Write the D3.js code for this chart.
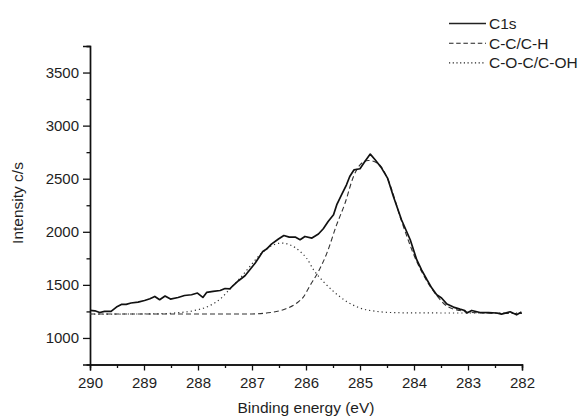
<!DOCTYPE html>
<html><head><meta charset="utf-8">
<script src="https://cdn.jsdelivr.net/npm/d3@7"></script>
<style>
html,body{margin:0;padding:0;background:#fff;}
svg text{font-family:"Liberation Sans",Arial,sans-serif;fill:#1e1e1e;}
</style></head>
<body><svg id="chart" width="582" height="416"></svg>
<script>
// Binding energy (eV) and intensity (c/s)
const c1sEnergy = [290.00,289.91,289.82,289.73,289.61,289.51,289.42,289.33,289.24,289.11,288.99,288.89,288.80,288.71,288.61,288.51,288.37,288.25,288.12,288.01,287.91,287.84,287.72,287.59,287.50,287.41,287.35,287.25,287.13,287.04,286.94,286.86,286.80,286.73,286.64,286.51,286.41,286.31,286.20,286.11,286.02,285.89,285.77,285.68,285.59,285.49,285.43,285.34,285.25,285.19,285.11,285.00,284.91,284.81,284.72,284.60,284.49,284.38,284.23,284.07,283.95,283.86,283.76,283.67,283.58,283.49,283.39,283.27,283.15,283.06,283.02,282.93,282.78,282.62,282.47,282.38,282.22,282.10,282.01];
const c1sIntensity = [1259,1256,1240,1250,1250,1291,1316,1316,1329,1338,1353,1369,1391,1360,1395,1366,1381,1400,1407,1423,1382,1429,1438,1447,1466,1463,1494,1539,1586,1642,1706,1768,1815,1837,1884,1932,1965,1950,1950,1925,1956,1941,1979,2029,2097,2160,2255,2349,2443,2521,2584,2594,2662,2732,2678,2600,2506,2330,2111,1925,1737,1642,1548,1470,1407,1376,1319,1291,1272,1259,1235,1259,1240,1238,1235,1225,1247,1218,1244];

const ccEnergy = [290.0,288.0,287.0,286.73,286.42,286.17,286.05,285.93,285.77,285.62,285.43,285.28,285.12,285.00,284.85,284.66,284.48,284.23,283.95,283.76,283.58,283.39,283.15,283.0,282.5,282.0];
const ccIntensity = [1225,1225,1226,1235,1266,1329,1385,1490,1626,1790,2070,2265,2521,2630,2672,2640,2490,2100,1720,1535,1400,1300,1258,1242,1233,1230];

const cocEnergy = [290.0,289.0,288.6,288.39,288.09,287.78,287.59,287.41,287.22,287.04,286.82,286.64,286.45,286.30,286.11,285.99,285.86,285.68,285.49,285.25,285.00,284.69,284.44,284.0,283.0,282.0];
const cocIntensity = [1225,1226,1230,1237,1256,1305,1366,1461,1564,1673,1800,1868,1894,1878,1815,1753,1642,1532,1438,1344,1282,1250,1240,1236,1235,1235];

const xTicks = [290,289,288,287,286,285,284,283,282];
const yTicks = [1000,1500,2000,2500,3000,3500];
const seriesNames = ["C1s","C-C/C-H","C-O-C/C-OH"];

const svg = d3.select("#chart");
const x = d3.scaleLinear().domain([290,282]).range([90,522]);
const y = d3.scaleLinear().domain([750,3750]).range([364.5,46]);

// axes
const xAxis = d3.axisBottom(x).tickValues(xTicks).tickFormat(d3.format("d")).tickSize(6).tickPadding(6.5);
const xMinor = d3.axisBottom(x).tickValues(d3.range(289.5,282,-1)).tickFormat("").tickSize(3.5);
const yAxis = d3.axisLeft(y).tickValues(yTicks).tickFormat(d3.format("d")).tickSize(7).tickPadding(4);
const yMinor = d3.axisLeft(y).tickValues([1250,1750,2250,2750,3250,3750]).tickFormat("").tickSize(3.5);

function styleAxis(g){
  g.select(".domain").attr("stroke","#111").attr("stroke-width",1.4);
  g.selectAll(".tick line").attr("stroke","#111").attr("stroke-width",1.3);
  g.selectAll(".tick text").attr("font-size",15).attr("fill","#1e1e1e").attr("font-family","Liberation Sans, Arial, sans-serif");
}
svg.append("g").attr("transform","translate(0,364.5)").call(xMinor).call(styleAxis);
svg.append("g").attr("transform","translate(0,364.5)").call(xAxis).call(styleAxis);
svg.append("g").attr("transform","translate(90,0)").call(yMinor).call(styleAxis);
svg.append("g").attr("transform","translate(90,0)").call(yAxis).call(styleAxis);

// axis titles
svg.append("text").attr("x",306).attr("y",413).attr("text-anchor","middle").attr("font-size",15.5).text("Binding energy (eV)");
svg.append("text").attr("transform","translate(23,203) rotate(-90)").attr("text-anchor","middle").attr("font-size",15.5).text("Intensity c/s");

// lines
const smooth = d3.line().x(d=>x(d[0])).y(d=>y(d[1])).curve(d3.curveMonotoneX);
const raw = d3.line().x(d=>x(d[0])).y(d=>y(d[1]));

svg.append("path").datum(d3.zip(ccEnergy,ccIntensity)).attr("d",smooth)
  .attr("fill","none").attr("stroke","#333").attr("stroke-width",1.1).attr("stroke-dasharray","5,3");
svg.append("path").datum(d3.zip(cocEnergy,cocIntensity)).attr("d",smooth)
  .attr("fill","none").attr("stroke","#333").attr("stroke-width",1.2).attr("stroke-dasharray","1.2,3");
svg.append("path").datum(d3.zip(c1sEnergy,c1sIntensity)).attr("d",raw)
  .attr("fill","none").attr("stroke","#111").attr("stroke-width",1.7).attr("stroke-linejoin","round");

// legend
const dashes = [null,"4.5,2.7","1.2,2.5"];
const widths = [1.6,1.1,1.2];
const leg = svg.append("g");
seriesNames.forEach((n,i)=>{
  const yy = 23.5 + i*19.7;
  const l = leg.append("line").attr("x1",449).attr("x2",486).attr("y1",yy).attr("y2",yy)
    .attr("stroke","#222").attr("stroke-width",widths[i]);
  if(dashes[i]) l.attr("stroke-dasharray",dashes[i]);
  leg.append("text").attr("x",489).attr("y",yy+5.5).attr("font-size",15.5).text(n);
});
</script></body></html>
